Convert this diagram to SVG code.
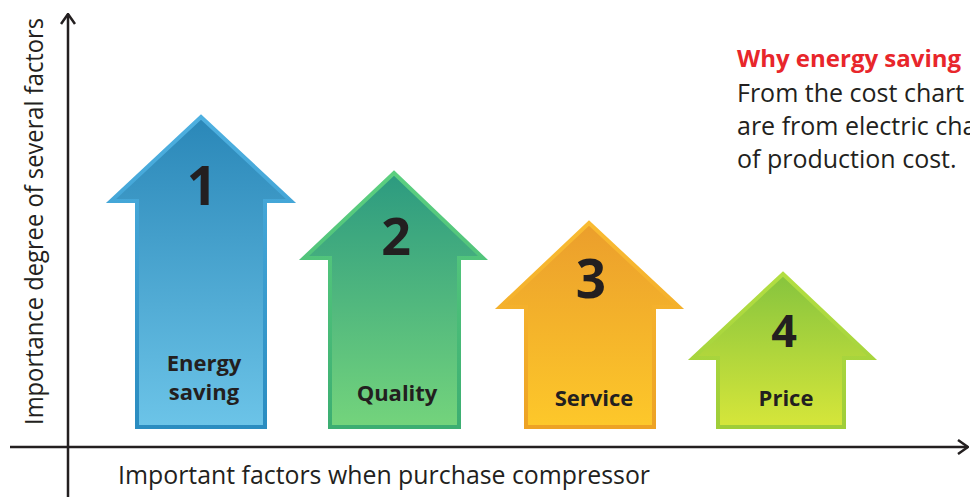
<svg xmlns="http://www.w3.org/2000/svg" width="970" height="497" viewBox="0 0 970 497">
<defs>
<linearGradient id="f1" x1="0" y1="0" x2="0" y2="1"><stop offset="0" stop-color="#2a87b8"/><stop offset="1" stop-color="#6cc4e8"/></linearGradient>
<linearGradient id="s1" x1="0" y1="0" x2="0" y2="1"><stop offset="0" stop-color="#4eb0e0"/><stop offset="1" stop-color="#2a8cc0"/></linearGradient>
<linearGradient id="f2" x1="0" y1="0" x2="0" y2="1"><stop offset="0" stop-color="#2c9a80"/><stop offset="1" stop-color="#74d47c"/></linearGradient>
<linearGradient id="s2" x1="0" y1="0" x2="0" y2="1"><stop offset="0" stop-color="#5ccf80"/><stop offset="1" stop-color="#3cae72"/></linearGradient>
<linearGradient id="f3" x1="0" y1="0" x2="0" y2="1"><stop offset="0" stop-color="#eb9e2c"/><stop offset="1" stop-color="#fdc82a"/></linearGradient>
<linearGradient id="s3" x1="0" y1="0" x2="0" y2="1"><stop offset="0" stop-color="#f9bb32"/><stop offset="1" stop-color="#eda224"/></linearGradient>
<linearGradient id="f4" x1="0" y1="0" x2="0" y2="1"><stop offset="0" stop-color="#86c43e"/><stop offset="1" stop-color="#d6e63a"/></linearGradient>
<linearGradient id="s4" x1="0" y1="0" x2="0" y2="1"><stop offset="0" stop-color="#b2de42"/><stop offset="1" stop-color="#9fcd38"/></linearGradient>
<marker id="ah" viewBox="0 0 12 16" refX="11" refY="8" markerWidth="12" markerHeight="16" markerUnits="userSpaceOnUse" orient="auto">
<path d="M1,1 L11,8 L1,15" fill="none" stroke="#231f20" stroke-width="2.5"/>
</marker>
<style>
.arrow{stroke-width:4;stroke-linejoin:miter}
.num{font-family:"Open Sans","Noto Sans",sans-serif;font-weight:700;fill:#231f20;text-anchor:middle}
.lbl{font-family:"Open Sans","Noto Sans",sans-serif;font-weight:700;font-size:22px;fill:#231f20;text-anchor:middle}
.axt{font-family:"Open Sans","Noto Sans",sans-serif;font-size:26px;fill:#231f20}
.note{font-family:"Open Sans","Noto Sans",sans-serif;font-size:25px;fill:#231f20}
.title{font-family:"Open Sans","Noto Sans",sans-serif;font-size:24px;font-weight:700;fill:#e8262b}
.axis{stroke:#231f20;stroke-width:2.5;fill:none}
</style>
</defs>
<rect width="970" height="497" fill="#ffffff"/>

<g id="connectors">
<line class="axis" x1="68" y1="497" x2="68" y2="14" marker-end="url(#ah)"/>
<line class="axis" x1="10" y1="447" x2="968" y2="447" marker-end="url(#ah)"/>
</g>

<g id="node-1">
<path class="arrow" d="M201,117 L291,201 L265,201 L265,427 L137,427 L137,201 L111,201 Z" fill="url(#f1)" stroke="url(#s1)"/>
<text class="num" x="202" y="205" font-size="53">1</text>
<text class="lbl" x="204" y="371">Energy</text>
<text class="lbl" x="204" y="400">saving</text>
</g>

<g id="node-2">
<path class="arrow" d="M394,173 L483,258 L459,258 L459,427 L330,427 L330,258 L304,258 Z" fill="url(#f2)" stroke="url(#s2)"/>
<text class="num" x="396" y="255" font-size="52">2</text>
<text class="lbl" x="397" y="401">Quality</text>
</g>

<g id="node-3">
<path class="arrow" d="M589,223 L679,307 L654,307 L654,427 L526,427 L526,307 L500,307 Z" fill="url(#f3)" stroke="url(#s3)"/>
<text class="num" x="591" y="298" font-size="53">3</text>
<text class="lbl" x="594" y="406">Service</text>
</g>

<g id="node-4">
<path class="arrow" d="M783,274 L872,358 L844,358 L844,427 L718,427 L718,358 L693,358 Z" fill="url(#f4)" stroke="url(#s4)"/>
<text class="num" x="784" y="347" font-size="45">4</text>
<text class="lbl" x="786" y="406">Price</text>
</g>

<text class="axt" x="0" y="0" transform="translate(43,425) rotate(-90)" textLength="407" lengthAdjust="spacingAndGlyphs">Importance degree of several factors</text>
<text class="axt" x="118" y="484" textLength="532" lengthAdjust="spacingAndGlyphs">Important factors when purchase compressor</text>

<g id="note">
<text class="title" x="737" y="67">Why energy saving</text>
<text class="note" x="737" y="102">From the cost chart</text>
<text class="note" x="737" y="135">are from electric cha</text>
<text class="note" x="737" y="168">of production cost.</text>
</g>
</svg>
